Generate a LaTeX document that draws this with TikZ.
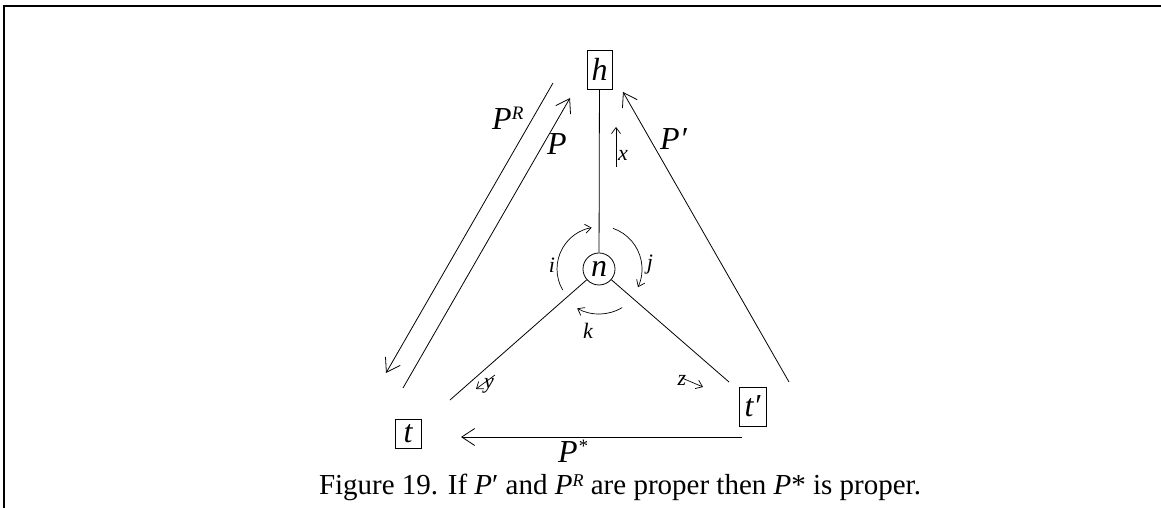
\documentclass[tikz,border=0pt]{standalone}
\usepackage{fontspec}
\setmainfont{Liberation Serif}
\usetikzlibrary{arrows.meta}
\newcommand{\sph}[1]{\raisebox{10pt}{\fontsize{19}{19}\selectfont #1}}
\newcommand{\sphc}[1]{\raisebox{8pt}{\fontsize{18}{18}\selectfont #1}}
\begin{document}
\begin{tikzpicture}[x=1pt,y=1pt,
  every node/.style={font=\fontsize{32}{32}\selectfont\itshape},
  vbox/.style={draw,line width=0.8pt,inner sep=0pt},
  plab/.style={anchor=base west,inner sep=0pt},
  small/.style={font=\fontsize{22}{22}\selectfont\itshape,inner sep=0pt},
  edge/.style={line width=0.8pt},
  bigarr/.style={line width=0.8pt,-{Straight Barb[length=13pt,width=17pt,line width=0.8pt]}},
  smallarr/.style={line width=0.7pt,-{Straight Barb[length=6pt,width=9pt,line width=0.7pt]}}]
\useasboundingbox (0,0) rectangle (1161,508);
% frame
\draw[line width=2pt] (3.5,0) -- (3.5,501.5) -- (1161,501.5);
% nodes
\node[vbox,minimum width=25pt,minimum height=39pt] (h) at (599.5,438.5) {h};
\node[draw,circle,line width=0.8pt,inner sep=0pt,minimum size=32pt] (n) at (599,239) {n};
\node[vbox,minimum width=26pt,minimum height=29pt] (t) at (408,74.5) {t};
\node[vbox,minimum width=27pt,minimum height=39pt] (tp) at (752.5,101.5) {t′};
% spokes
\coordinate (nl) at (450,108);
\coordinate (nr) at (729,126);
\draw[edge] (h) -- (n);
\draw[edge] (n) -- (nl);
\draw[edge] (n) -- (nr);
% paths
\coordinate (Ps) at (403,120); \coordinate (Pe) at (570,410);
\coordinate (PRs) at (553,425); \coordinate (PRe) at (386,135);
\coordinate (Pps) at (789,126); \coordinate (Ppe) at (623,416);
\coordinate (Pss) at (742,71); \coordinate (Pse) at (461,71);
\draw[bigarr] (Ps) -- (Pe);
\draw[bigarr] (PRs) -- (PRe);
\draw[bigarr] (Pps) -- (Ppe);
\draw[bigarr] (Pss) -- (Pse);
\node[plab] (lPR) at (492,378) {P\sph{R}};
\node[plab] (lP) at (547,353) {P};
\node[plab] (lPp) at (660,358) {P′};
\node[plab] (lPs) at (558,45) {P\sph{*}};
% small arrows
\coordinate (xs) at (616,341); \coordinate (xe) at (616,381);
\draw[smallarr] (xs) -- (xe);
\node[small] (lx) at (623,353) {x};
\coordinate (ys) at (495,133); \coordinate (ye) at (476,119);
\draw[smallarr] (ys) -- (ye);
\node[small] (ly) at (489,122) {y};
\coordinate (zs) at (682,130); \coordinate (ze) at (703,121);
\draw[smallarr] (zs) -- (ze);
\node[small] (lz) at (682,128) {z};
% rotation arcs around n
\draw[smallarr] ([shift={(210:42)}]n.center) arc[start angle=210,end angle=100,radius=42];
\node[small] (li) at (552,243) {i};
\draw[smallarr] ([shift={(71:43)}]n.center) arc[start angle=71,end angle=-25,radius=43];
\node[small] (lj) at (650,243) {j};
\draw[smallarr] ([shift={(-59:45)}]n.center) arc[start angle=-59,end angle=-119,radius=45];
\node[small] (lk) at (588,177) {k};
% caption
\node[font=\fontsize{29}{29}\selectfont,anchor=base] (cap) at (620,13) {Figure 19. If \textit{P}′ and \textit{P}\sphc{\itshape R} are proper then \textit{P}* is proper.};
\end{tikzpicture}
\end{document}
